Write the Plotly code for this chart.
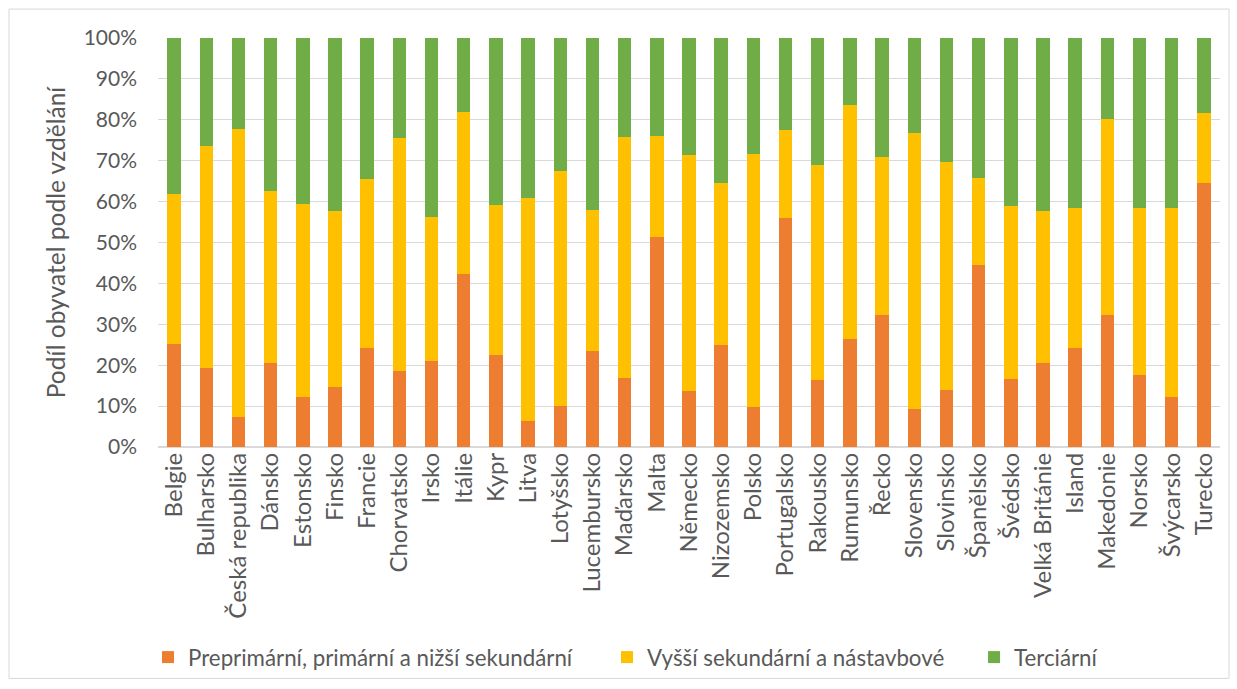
import plotly.graph_objects as go

countries = ["Belgie", "Bulharsko", "Česká republika", "Dánsko", "Estonsko", "Finsko",
             "Francie", "Chorvatsko", "Irsko", "Itálie", "Kypr", "Litva", "Lotyšsko",
             "Lucembursko", "Maďarsko", "Malta", "Německo", "Nizozemsko", "Polsko",
             "Portugalsko", "Rakousko", "Rumunsko", "Řecko", "Slovensko", "Slovinsko",
             "Španělsko", "Švédsko", "Velká Británie", "Island", "Makedonie", "Norsko",
             "Švýcarsko", "Turecko"]

# share (%) of lower education
lower = [25.2, 19.4, 7.3, 20.5, 12.2, 14.6, 24.1, 18.5, 21.0, 42.4, 22.4, 6.3, 10.1,
         23.4, 16.8, 51.4, 13.7, 25.0, 9.8, 55.9, 16.5, 26.3, 32.2, 9.4, 13.9,
         44.6, 16.7, 20.5, 24.1, 32.2, 17.5, 12.3, 64.6]
# share (%) of upper secondary
upper = [36.6, 54.1, 70.4, 42.2, 47.3, 43.2, 41.5, 57.1, 35.2, 39.6, 36.8, 54.7, 57.4,
         34.6, 59.1, 24.7, 57.7, 39.5, 61.8, 21.7, 52.4, 57.4, 38.8, 67.3, 55.8,
         21.2, 42.2, 37.2, 34.4, 48.0, 41.0, 46.2, 17.1]
# share (%) of tertiary
tertiary = [38.2, 26.5, 22.3, 37.3, 40.5, 42.2, 34.4, 24.4, 43.8, 18.0, 40.8, 39.0, 32.5,
            42.0, 24.1, 23.9, 28.6, 35.5, 28.4, 22.4, 31.1, 16.3, 29.0, 23.3, 30.3,
            34.2, 41.1, 42.3, 41.5, 19.8, 41.5, 41.5, 18.3]

series_names = ["Preprimární, primární a nižší sekundární",
                "Vyšší sekundární a nástavbové",
                "Terciární"]
series_values = [lower, upper, tertiary]
series_colors = ["#ED7D31", "#FFC000", "#70AD47"]

legend_ids = ["legend", "legend2", "legend3"]
legend_x = [-0.0094, 0.4228, 0.7684]

fig = go.Figure()
for name, vals, col, lid in zip(series_names, series_values, series_colors, legend_ids):
    fig.add_trace(go.Bar(x=countries, y=vals, name=name, marker_color=col,
                         marker_line_width=0, legend=lid))

font_family = "Lato, Open Sans, sans-serif"
legend_common = dict(orientation="h", xanchor="left", y=-0.51, yanchor="middle",
                     font=dict(size=22.3, color="#595959"), bgcolor="rgba(0,0,0,0)")
fig.update_layout(
    barmode="stack",
    bargap=0.58,
    width=1237, height=689,
    margin=dict(l=158, r=17, t=38, b=241),
    paper_bgcolor="white", plot_bgcolor="white",
    font=dict(family=font_family, color="#595959"),
    showlegend=True,
    legend=dict(x=legend_x[0], **legend_common),
    legend2=dict(x=legend_x[1], **legend_common),
    legend3=dict(x=legend_x[2], **legend_common),
    xaxis=dict(tickangle=-90, tickfont=dict(size=24, color="#595959"),
               showgrid=False, showline=False, ticks=""),
    yaxis=dict(range=[0, 100], dtick=10, ticksuffix="%", showgrid=True,
               gridcolor="#D9D9D9", gridwidth=1, zeroline=True, zerolinecolor="#D9D9D9",
               tickfont=dict(size=21, color="#595959"),
               title=dict(text="Podíl obyvatel podle vzdělání",
                          font=dict(size=24.5, color="#595959"), standoff=11),
               ticklabelstandoff=20),
)

# outer chart border
fig.add_shape(type="rect", xref="paper", yref="paper",
              x0=(9 - 158) / 1062, x1=(1229 - 158) / 1062,
              y0=(448 - 680) / 410, y1=(448 - 9) / 410,
              line=dict(color="#D9D9D9", width=1), fillcolor="rgba(0,0,0,0)",
              layer="below")

fig.write_html("out.html")
